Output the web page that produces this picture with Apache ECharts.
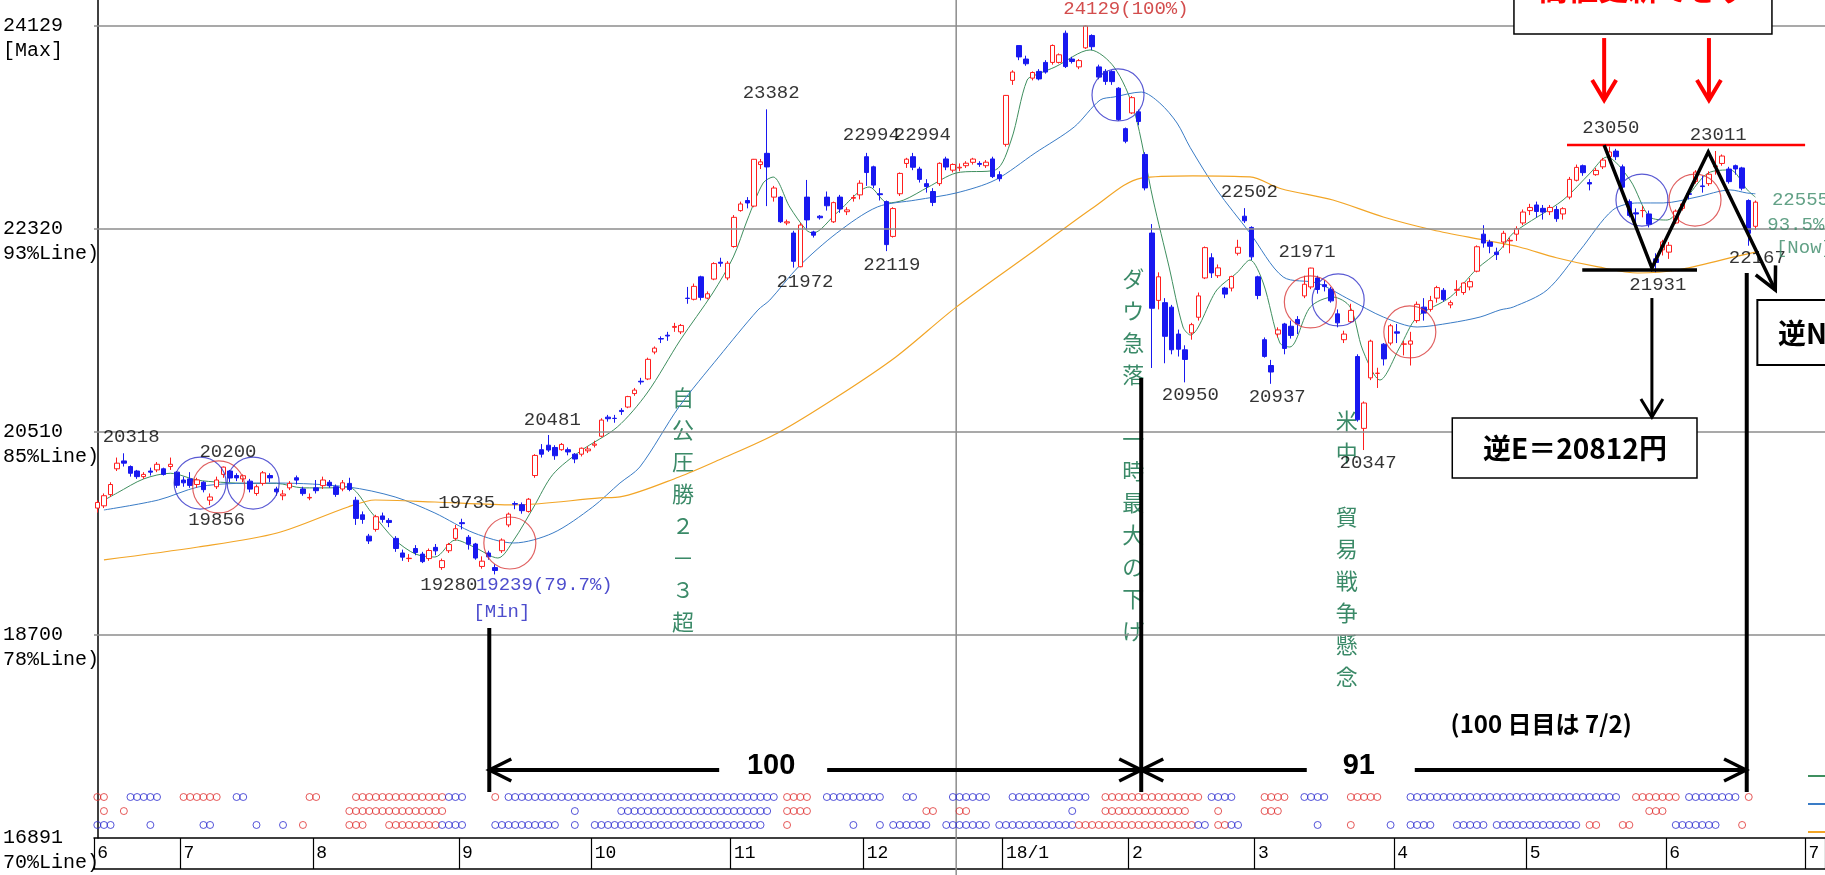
<!DOCTYPE html>
<html lang="ja">
<head>
<meta charset="utf-8">
<title>日経平均 日足</title>
<script src="https://cdn.jsdelivr.net/npm/echarts@6/dist/echarts.min.js"></script>
<style>
html,body{margin:0;padding:0;background:#fff;overflow:hidden;}
#chart{width:1825px;height:875px;}
</style>
</head>
<body>
<div id="chart"></div>
<script>
// ---------- calendar (trading days) ----------
const firstDay = '2017-06-14';
const lastDay = '2018-07-04';
const holidays = ['2017-07-17','2017-08-11','2017-09-18','2017-10-09','2017-11-03','2017-11-23',
  '2018-01-01','2018-01-02','2018-01-03','2018-01-08','2018-02-12','2018-03-21','2018-04-30','2018-05-03','2018-05-04'];
const monthText = {'2017-06':'6','2017-07':'7','2017-08':'8','2017-09':'9','2017-10':'10','2017-11':'11','2017-12':'12',
  '2018-01':'18/1','2018-02':'2','2018-03':'3','2018-04':'4','2018-05':'5','2018-06':'6','2018-07':'7'};

// ---------- y axis ----------
const yMin = 16891, yMax = 24356;
const yTicks = [16891, 18700, 20510, 22320, 24129];
const yTickNotes = ['70%Line)', '78%Line)', '85%Line)', '93%Line)', '[Max]'];

// ---------- daily candles [open, close, low, high] ----------
const jun17 = [[19830,19880,19790,19900],[19850,19940,19830,19960],[19950,20040,19930,20060],[20180,20230,20160,20280],
 [20250,20230,20200,20318],[20200,20140,20110,20210],[20160,20110,20090,20170],[20110,20130,20090,20150],
 [20160,20150,20120,20190],[20170,20220,20150,20240],[20180,20130,20120,20190],[20200,20220,20170,20280],[20150,20033,20010,20160]];
const jul17 = [[20080,20055,20020,20110],[20090,20032,20010,20150],[20040,20081,20010,20100],[20060,19994,19970,20070],
 [19900,19929,19856,19960],[20020,20080,20000,20110],[20130,20195,20100,20200],[20160,20098,20060,20170],
 [20120,20099,20070,20140],[20090,20118,20060,20130],[20070,19999,19970,20090],[19960,20020,19940,20040],
 [20050,20144,20030,20160],[20120,20099,20060,20140],[20000,19975,19940,20020],[19940,19955,19900,19990],
 [20010,20050,19990,20070],[20100,20079,20040,20120],[20000,19959,19940,20020],[19920,19925,19900,19960]];
const aug17 = [[20010,19985,19960,20080],[20030,20080,20000,20110],[20060,20029,20010,20080],[20020,19952,19930,20040],
 [20000,20055,19980,20080],[20050,19996,19980,20100],[19900,19738,19680,19930],[19770,19729,19690,19800],
 [19580,19537,19510,19600],[19640,19753,19620,19770],[19760,19729,19700,19790],[19720,19702,19660,19740],
 [19560,19470,19440,19580],[19430,19393,19360,19460],[19380,19383,19350,19420],[19470,19434,19410,19500],
 [19420,19353,19340,19440],[19380,19452,19360,19470],[19480,19449,19410,19510],[19300,19362,19280,19380],
 [19450,19506,19430,19520],[19560,19646,19540,19680]];
const sep17 = [[19700,19691,19640,19735],[19570,19508,19460,19590],[19510,19385,19370,19520],[19310,19357,19290,19400],
 [19430,19396,19370,19450],[19300,19274,19239,19330],[19450,19545,19430,19560],[19680,19776,19660,19790],
 [19870,19865,19820,19890],[19860,19807,19780,19880],[19800,19909,19790,19920],[20120,20299,20100,20310],
 [20350,20310,20280,20400],[20390,20347,20330,20481],[20370,20296,20260,20390],[20350,20397,20340,20410],
 [20350,20330,20300,20370],[20310,20267,20230,20320],[20310,20363,20290,20370],[20340,20356,20320,20380]];
const oct17 = [[20390,20400,20370,20430],[20470,20614,20460,20630],[20640,20626,20600,20660],[20630,20628,20590,20660],
 [20700,20690,20660,20720],[20730,20823,20720,20830],[20850,20881,20830,20900],[20960,20954,20930,20990],
 [20980,21155,20970,21170],[21220,21255,21200,21270],[21340,21336,21300,21360],[21370,21363,21320,21400],
 [21440,21448,21400,21480],[21400,21457,21380,21470],[21700,21697,21650,21800],[21690,21805,21680,21830],
 [21890,21707,21680,21900],[21700,21739,21690,21760],[21870,22008,21860,22020],[22020,22011,21980,22060],
 [21880,22011,21860,22030]];
const nov17 = [[22160,22420,22150,22440],[22480,22539,22470,22560],[22570,22548,22500,22600],[22520,22937,22510,22940],
 [22890,22914,22850,22940],[22990,22869,22520,23382],[22600,22681,22560,22700],[22600,22381,22370,22610],
 [22370,22380,22350,22400],[22280,22028,21972,22300],[21980,22351,21975,22370],[22600,22397,22310,22753],
 [22290,22261,22240,22300],[22430,22416,22400,22440],[22600,22523,22480,22650],[22380,22551,22370,22560],
 [22600,22495,22460,22620],[22470,22486,22440,22510],[22590,22597,22560,22620],[22620,22724,22580,22750]];
const dec17 = [[22960,22819,22700,22994],[22870,22707,22680,22880],[22630,22622,22570,22680],[22560,22177,22119,22570],
 [22250,22498,22240,22510],[22630,22811,22610,22820],[22900,22938,22860,22950],[22960,22866,22840,22994],
 [22850,22758,22730,22870],[22720,22694,22640,22760],[22650,22553,22520,22680],[22720,22901,22700,22910],
 [22940,22868,22840,22960],[22840,22891,22820,22900],[22860,22866,22830,22900],[22880,22902,22860,22920],
 [22910,22939,22890,22950],[22900,22892,22870,22920],[22880,22911,22860,22930],[22940,22783,22770,22960],
 [22800,22764,22740,22830]];
const jan18 = [[23070,23506,23050,23510],[23640,23714,23600,23730],[23950,23849,23820,23952],[23830,23788,23770,23860],
 [23660,23710,23640,23720],[23720,23653,23640,23740],[23800,23714,23700,23820],[23800,23951,23780,23960],
 [23800,23868,23790,23880],[24060,23763,23750,24084],[23830,23808,23790,23850],[23760,23816,23740,23830],
 [23930,24124,23920,24129],[24040,23940,23910,24050],[23760,23669,23650,23780],[23720,23631,23600,23740],
 [23720,23629,23600,23730],[23570,23291,23280,23580],[23210,23098,23080,23220]];
const feb18 = [[23350,23486,23340,23500],[23360,23274,23240,23380],[22980,22682,22660,23000],[22280,21610,21078,22360],
 [21680,21890,21600,21930],[21660,21360,21120,21700],[21620,21240,21200,21640],[21380,21245,21180,21420],
 [21240,21154,20950,21280],[21390,21464,21330,21480],[21530,21720,21500,21750],[21880,22150,21870,22160],
 [22060,21925,21880,22100],[21900,21970,21880,22000],[21790,21736,21700,21800],[21790,21892,21760,21900],
 [22100,22153,22080,22220],[22430,22389,22370,22502],[22330,22068,22040,22340]];
const mar18 = [[21890,21724,21690,21900],[21330,21181,21170,21350],[21100,21042,20937,21150],[21380,21417,21350,21440],
 [21470,21252,21200,21480],[21450,21368,21340,21500],[21510,21469,21380,21540],[21720,21824,21700,21900],
 [21800,21968,21780,21971],[21880,21777,21740,21900],[21820,21803,21760,21860],[21780,21676,21660,21800],
 [21560,21480,21440,21600],[21330,21380,21300,21410],[21490,21591,21480,21650],[21180,20617,20600,21200],
 [20540,20766,20347,20780],[20990,21317,20970,21330],[21030,21031,20900,21080],[21290,21159,21100,21300],
 [21300,21454,21280,21470]];
const apr18 = [[21400,21388,21300,21470],[21290,21292,21190,21320],[21290,21319,21100,21400],[21500,21645,21480,21670],
 [21620,21567,21500,21700],[21600,21678,21580,21720],[21700,21794,21660,21810],[21770,21687,21670,21790],
 [21640,21660,21610,21680],[21770,21778,21720,21860],[21750,21835,21730,21840],[21800,21847,21770,21880],
 [21940,22158,21930,22170],[22270,22191,22150,22350],[22200,22162,22100,22220],[22110,22088,22040,22150],
 [22200,22278,22150,22300],[22210,22215,22100,22240],[22270,22319,22210,22340],[22370,22467,22350,22490]];
const may18 = [[22480,22508,22440,22540],[22530,22472,22420,22560],[22500,22467,22400,22530],[22470,22508,22440,22530],
 [22490,22408,22380,22520],[22450,22497,22400,22510],[22600,22758,22580,22780],[22750,22865,22740,22890],
 [22880,22818,22790,22890],[22730,22717,22660,22760],[22800,22838,22790,22860],[22870,22930,22850,22950],
 [22960,23002,22940,23050],[23010,22960,22930,23030],[22870,22689,22660,22890],[22560,22437,22420,22580],
 [22460,22450,22360,22500],[22480,22481,22420,22520],[22450,22358,22330,22480],[22050,22018,21931,22100],
 [22130,22201,22080,22220]];
const jun18 = [[22110,22171,22050,22200],[22370,22475,22360,22490],[22500,22539,22480,22560],[22630,22625,22580,22650],
 [22740,22823,22720,22840],[22700,22694,22640,22790],[22720,22804,22700,22830],[22870,22878,22800,23011],
 [22900,22966,22880,22980],[22850,22738,22720,22870],[22880,22851,22800,22890],[22860,22680,22660,22870],
 [22570,22278,22167,22580],[22340,22555,22310,22570]];

// ---------- moving averages [day index, value] ----------
const maShort = [[1,19900],[3,19965],[7,20090],[11,20140],[15,20080],[18.6,20060],[23,20050],[27,20050],[31,20010],
 [35,20010],[37.8,20018],[41.4,19786],[44.9,19546],[48,19420],[50.9,19394],[54,19546],[56.8,19483],[60.4,19385],
 [62.8,19546],[65.8,19840],[68.7,20130],[72.9,20340],[78.4,20552],[82.9,20855],[87.9,21327],[92.8,21746],
 [95.9,22067],[98,22396],[100.4,22726],[101.9,22779],[104.4,22512],[106.9,22307],[107.9,22280],[111.5,22459],
 [116.4,22690],[119.2,22548],[121.6,22574],[125.3,22690],[129.5,22815],[135.4,22842],[137.8,23109],[140.2,23643],
 [142,23700],[144.4,23759],[149.7,23911],[153.3,23759],[156.3,23376],[159.2,22574],[161.6,21978],[163.7,21443],
 [164.8,21372],[168.8,21773],[171.8,21924],[173.8,22040],[175.8,21835],[178.3,21301],[179.8,21265],[182.9,21621],
 [186.3,21710],[188.9,21621],[190.8,21238],[193.4,20971],[196.4,21265],[199,21532],[204,21710],[208,21960],
 [211.5,22129],[213.5,22280],[221,22574],[225.1,22815],[227.6,22957],[231.1,22753],[234.1,22423],[236.7,22396],
 [239.7,22600],[242.9,22815],[246.2,22842],[248.8,22664],[250,22600]];
const maMid = [[1,19813],[9.2,19902],[15.2,20018],[21,20050],[27.1,20053],[37.8,20018],[44.9,19929],[50.9,19786],
 [56.8,19608],[62.8,19519],[68.7,19608],[74.7,19840],[78.8,20053],[81.8,20196],[87.7,20731],[93.7,21176],
 [99.6,21594],[101.4,21683],[105.7,21978],[111.5,22280],[117.6,22512],[123.4,22574],[129.5,22637],[135.4,22753],
 [141.4,22993],[147.3,23225],[151.2,23465],[153.3,23492],[157.4,23536],[160.2,23438],[162.8,23260],[164.8,23040],
 [168.8,22664],[173.8,22280],[178.8,21889],[183.9,21835],[188.9,21684],[193.9,21532],[199,21443],[204,21479],
 [208.5,21532],[211.5,21595],[213.5,21621],[218.6,21773],[223.6,22129],[228.5,22485],[232.2,22548],[236.1,22548],
 [241.2,22601],[246.2,22664],[248.7,22637],[250,22630]];
const maLong = [[1,19368],[15.2,19483],[27.1,19608],[37.8,19840],[41.9,19902],[50.9,19884],[62.8,19858],[75.8,19920],
 [78.8,19929],[87.7,20107],[93.7,20258],[102.6,20499],[111.5,20819],[120.4,21176],[129.5,21620],[141.4,22129],
 [150.3,22512],[157.4,22770],[165.2,22790],[173.8,22780],[178.5,22675],[186.3,22574],[193.9,22423],[201.4,22307],
 [209,22218],[214.4,22156],[220,22060],[226.3,21978],[232.3,21924],[238.3,21951],[246.8,22067],[250,22110]];
const maNames = ['5日線', '25日線', '75日線'];

// ---------- cross marks (circles) [day index, value, kind] ----------
const crossMarks = [[15.5,20053,'b'],[18.3,20018,'r'],[23.5,20053,'b'],[62.2,19519,'r'],[153.9,23510,'b'],
 [182.9,21666,'r'],[187.1,21684,'b'],[197.9,21399,'r'],[232.9,22574,'b'],[240.9,22574,'r']];

// ---------- signal dots: runs of days [from, to, kind] per row ----------
const dotRowValues = [17256, 17131, 17007];
const dotRow1 = [[0,1,'r'],[5,9,'b'],[13,18,'r'],[21,22,'b'],[32,33,'r'],[39,52,'r'],[53,55,'b'],[60,60,'r'],[62,102,'b'],
 [104,107,'r'],[110,118,'b'],[122,123,'b'],[129,134,'b'],[138,149,'b'],[152,166,'r'],[168,171,'b'],[176,179,'r'],
 [182,185,'b'],[189,193,'r'],[198,229,'b'],[232,238,'r'],[240,247,'b'],[249,249,'r']];
const dotRow2 = [[1,1,'r'],[4,4,'r'],[38,52,'r'],[72,72,'b'],[79,101,'b'],[104,107,'r'],[125,126,'r'],[130,131,'r'],
 [147,147,'b'],[152,164,'r'],[169,169,'r'],[176,178,'r'],[234,236,'r']];
const dotRow3 = [[0,2,'b'],[8,8,'b'],[16,17,'b'],[24,24,'b'],[28,28,'b'],[31,31,'r'],[38,40,'r'],[44,51,'r'],[52,55,'b'],
 [60,60,'b'],[61,69,'b'],[72,72,'b'],[75,100,'b'],[104,104,'r'],[114,114,'b'],[118,118,'b'],[120,125,'b'],[128,134,'b'],
 [136,147,'b'],[148,165,'r'],[166,167,'b'],[169,170,'r'],[171,172,'b'],[184,184,'b'],[189,189,'r'],[195,195,'b'],
 [198,201,'b'],[205,209,'b'],[211,223,'b'],[225,226,'r'],[230,231,'r'],[238,244,'b'],[248,248,'r']];

// ---------- price labels [day index, value, text] ----------
const peakLabels = [[5.1,20463,'20318'],[19.7,20330,'20200'],[18.0,19724,'19856'],[55.7,19875,'19735'],[53.0,19145,'19280'],
 [68.6,20615,'20481'],[101.6,23528,'23382'],[116.7,23153,'22994'],[124.4,23153,'22994'],[106.7,21844,'21972'],
 [119.8,21995,'22119'],[173.7,22646,'22502'],[182.4,22111,'21971'],[164.8,20837,'20950'],[177.9,20819,'20937'],
 [191.6,20232,'20347'],[228.2,23216,'23050'],[244.4,23153,'23011'],[235.3,21817,'21931'],[250.3,22058,'22167']];
const minLabels = [[67.4,19145,'19239(79.7%)'],[61.0,18904,'[Min]']];
const maxLabels = [[155.1,24276,'24129(100%)']];
const nowLabels = [[252.5,22574,'22555'],[251.8,22352,'93.5%'],[253.1,22147,'[Now]']];

// ---------- annotations (data space: day index, price) ----------
const spanArrows = [[59.1,157.4,17497,'100',100.7],[157.4,248.6,17497,'91',189.3]];
const guideLines = [[59.1,18762,17301],[157.4,20989,17301],[248.7,21924,17301]];
const noteText = [217.7,17907,'(100 日目は 7/2)'];
const verticalNotes = [[88.3,20811,'自公圧勝２－３超'],[156.2,21871,'ダウ急落　一時最大の下げ'],[188.4,20606,'米中　貿易戦争懸念']];
const topBox = [213.6,252.5,24712,24053,'高値更新できず',233.1,24458];
const redArrows = [[227.2,24017,23465],[243.0,24017,23465]];
const resistance = [221.6,257.5,23064];
const zigzag = [[227.2,23064],[234.4,21969],[242.9,23002],[253.0,21773]];
const supportLine = [223.9,241.2,21951];
const downArrow = [234.4,21701,20641];
const boxE = [204.3,241.2,20632,20098,'逆E＝20812円',222.8,20365];
const boxN = [250.3,275,21684,21105,'逆N計算値',253.4,21390];
const vGrid = [129.5];

// ================= build =================
const dates = [];
(function(){
  let d = new Date(firstDay + 'T00:00:00Z');
  const end = new Date(lastDay + 'T00:00:00Z');
  while (d <= end) {
    const s = d.toISOString().slice(0,10);
    const wd = d.getUTCDay();
    if (wd !== 0 && wd !== 6 && holidays.indexOf(s) < 0) dates.push(s);
    d = new Date(d.getTime() + 86400000);
  }
})();
const monthStart = dates.map((s,i)=> i===0 || s.slice(0,7) !== dates[i-1].slice(0,7));
const ohlc = [].concat(jun17,jul17,aug17,sep17,oct17,nov17,dec17,jan18,feb18,mar18,apr18,may18,jun18);

const RED = '#ff1e1e', BLUE = '#1818f0', GREEN_T = '#3b8a68';
const MONO = "'Liberation Mono','DejaVu Sans Mono',monospace";
const JP = "'Noto Sans CJK JP','Noto Sans',sans-serif";

function expand(runs, val){
  const out = [];
  runs.forEach(([a,b,k])=>{ for(let i=a;i<=b;i++) out.push({value:[i,val], itemStyle:{borderColor: k==='r'?'#e03030':'#2a2ad0'}}); });
  return out;
}
const dotData = [].concat(expand(dotRow1,dotRowValues[0]), expand(dotRow2,dotRowValues[1]), expand(dotRow3,dotRowValues[2]));
const circleData = crossMarks.map(([i,v,k])=>({value:[i,v], itemStyle:{borderColor: k==='r'?'#d83a3a':'#3030c8'}}));

function lbl(arr, color, align){
  return arr.map(([i,v,t])=>({value:[i,v], label:{formatter:t, color:color, align:align}}));
}
const labelData = [].concat(lbl(peakLabels,'#000','center'), lbl(minLabels,'#2020c0','center'),
  lbl(maxLabels,'#c82020','center'), lbl(nowLabels,GREEN_T,'left'));

const chart = echarts.init(document.getElementById('chart'));
const maColors = ['#3f8f5f','#3a7cc6','#f2a526'];

chart.setOption({
  animation:false,
  backgroundColor:'#ffffff',
  grid:{left:94, right:0, top:0, bottom:37, containLabel:false, outerBoundsMode:'none'},
  legend:{data:maNames, orient:'vertical', left:1803, top:765, icon:'rect', itemWidth:30, itemHeight:2, itemGap:16,
    textStyle:{fontSize:12, color:'#333'}},
  xAxis:[
    {type:'category', data:dates, boundaryGap:true,
      axisLine:{show:true, lineStyle:{color:'#000', width:1.5}},
      axisTick:{show:true, interval:(i)=>monthStart[i], length:31, lineStyle:{color:'#000', width:1.2}},
      axisLabel:{interval:(i)=>monthStart[i], formatter:(val)=>monthText[val.slice(0,7)]||'', align:'left', margin:6,
        fontFamily:MONO, fontSize:18, color:'#000'},
      splitLine:{show:false}},
    {type:'value', min:-0.5, max:dates.length-0.5, show:false},
    {type:'category', data:dates, position:'bottom', offset:31,
      axisLine:{show:true, lineStyle:{color:'#000', width:1.5}}, axisTick:{show:false}, axisLabel:{show:false}}
  ],
  yAxis:{type:'value', min:yMin, max:yMax,
    axisLine:{show:true, lineStyle:{color:'#000', width:1.5}}, axisTick:{show:false}, splitLine:{show:false},
    axisLabel:{customValues:yTicks, formatter:(v)=>{const k=yTicks.indexOf(Math.round(v)); return k<0?'':'\n'+yTicks[k]+'\n'+yTickNotes[k];},
      align:'left', margin:91, fontFamily:MONO, fontSize:20, lineHeight:25, padding:[0,0,12,0], color:'#000'}},
  series:[
    {name:'日足', type:'candlestick', xAxisIndex:0, yAxisIndex:0, data:ohlc, barWidth:5, z:4,
      itemStyle:{color:'#ffffff', color0:BLUE, borderColor:RED, borderColor0:BLUE, borderWidth:1}},
    {name:maNames[0], type:'line', xAxisIndex:1, yAxisIndex:0, data:maShort, smooth:0.3, showSymbol:false, z:3,
      lineStyle:{color:maColors[0], width:1}, itemStyle:{color:maColors[0]},
      markLine:{silent:true, symbol:['none','none'], label:{show:false},
        lineStyle:{color:'#8c8c8c', width:1.5, type:'solid'}, data:yTicks.slice(1).map(v=>({yAxis:v}))}},
    {name:maNames[1], type:'line', xAxisIndex:1, yAxisIndex:0, data:maMid, smooth:0.3, showSymbol:false, z:3,
      lineStyle:{color:maColors[1], width:1}, itemStyle:{color:maColors[1]}},
    {name:maNames[2], type:'line', xAxisIndex:1, yAxisIndex:0, data:maLong, smooth:0.3, showSymbol:false, z:3,
      lineStyle:{color:maColors[2], width:1.2}, itemStyle:{color:maColors[2]}},
    {type:'scatter', xAxisIndex:1, yAxisIndex:0, data:circleData, symbol:'circle', symbolSize:52, z:5, silent:true,
      itemStyle:{color:'rgba(0,0,0,0)', borderWidth:1.2}},
    {type:'scatter', xAxisIndex:1, yAxisIndex:0, data:dotData, symbol:'circle', symbolSize:7, z:5, silent:true,
      itemStyle:{color:'rgba(0,0,0,0)', borderWidth:1}},
    {type:'scatter', xAxisIndex:1, yAxisIndex:0, data:labelData, symbol:'circle', symbolSize:2, z:8, silent:true,
      itemStyle:{color:'rgba(255,255,255,0)', borderWidth:0},
      label:{show:true, position:'inside', verticalAlign:'middle', fontFamily:MONO, fontSize:19}}
  ]
});

// ---------- annotation graphics positioned through the axes ----------
(function(){
  const P = (i,v)=>chart.convertToPixel({xAxisIndex:1, yAxisIndex:0}, [i,v]);
  const g = [];
  const seg = (a,b,color,w,z)=>g.push({type:'line', z:z||60, silent:true, shape:{x1:a[0],y1:a[1],x2:b[0],y2:b[1]}, style:{stroke:color, lineWidth:w}});
  const head = (tip,from,color,w,len,half)=>{
    const dx=tip[0]-from[0], dy=tip[1]-from[1], L=Math.hypot(dx,dy)||1, ux=dx/L, uy=dy/L;
    const bx=tip[0]-ux*len, by=tip[1]-uy*len, px=-uy, py=ux;
    g.push({type:'polyline', z:61, silent:true, shape:{points:[[bx+px*half,by+py*half],[tip[0],tip[1]],[bx-px*half,by-py*half]]},
      style:{stroke:color, lineWidth:w, fill:null, lineJoin:'miter'}});
  };
  const txt = (x,y,text,opt)=>g.push({type:'text', z:opt.z||62, silent:true, x:x, y:y,
    style:Object.assign({text:text, fill:'#000', fontSize:24, fontFamily:JP, textAlign:'center', align:'center',
      textVerticalAlign:'middle', verticalAlign:'middle'}, opt.style||{})});
  const box = (x0,y0,x1,y1,w)=>g.push({type:'rect', z:58, silent:true, shape:{x:x0,y:y0,width:x1-x0,height:y1-y0},
    style:{fill:'#ffffff', stroke:'#000', lineWidth:w}});

  vGrid.forEach(i=>{ const p=P(i,yMax); seg([p[0],0],[p[0],875],'#8c8c8c',1.5,1); });

  verticalNotes.forEach(([i,v,t])=>{
    const p=P(i,v);
    g.push({type:'text', z:1, silent:true, x:p[0], y:p[1]-16,
      style:{text:t.split('').join('\n'), fill:GREEN_T, fontSize:22, fontFamily:JP, lineHeight:32,
        textAlign:'center', align:'center', textVerticalAlign:'top', verticalAlign:'top'}});
  });

  guideLines.forEach(([i,v0,v1])=>seg(P(i,v0),P(i,v1),'#000',4));

  spanArrows.forEach(([i0,i1,v,t,it])=>{
    const a=P(i0,v), b=P(i1,v), c=P(it,v);
    seg(a,[c[0]-46,c[1]],'#000',4); seg([c[0]+62,c[1]],b,'#000',4);
    head(a,[a[0]+30,a[1]],'#000',3.5,22,11); head(b,[b[0]-30,b[1]],'#000',3.5,22,11);
    txt(c[0]+6,c[1]-4,t,{style:{fontSize:29, fontWeight:'bold', fontFamily:"'Liberation Sans Narrow','Liberation Sans',Arial,sans-serif"}});
  });
  { const p=P(noteText[0],noteText[1]); txt(p[0],p[1],noteText[2],{style:{fontSize:24, fontWeight:'bold'}}); }

  { const a=P(topBox[0],topBox[2]), b=P(topBox[1],topBox[3]); box(a[0],a[1],b[0],b[1],1.5);
    const c=P(topBox[5],topBox[6]); txt(c[0],c[1],topBox[4],{style:{fill:'#ff0000', fontSize:30, fontWeight:'bold'}}); }
  redArrows.forEach(([i,v0,v1])=>{ const a=P(i,v0), b=P(i,v1); seg(a,b,'#ff0000',4); head(b,a,'#ff0000',4,20,12); });
  { const a=P(resistance[0],resistance[2]), b=P(resistance[1],resistance[2]); seg(a,b,'#ff0000',2.5); }

  const zp = zigzag.map(([i,v])=>P(i,v));
  g.push({type:'polyline', z:60, silent:true, shape:{points:zp}, style:{stroke:'#000', lineWidth:3.5, fill:null, lineJoin:'miter'}});
  head(zp[3], zp[2], '#000', 3.5, 22, 11);
  { const a=P(supportLine[0],supportLine[2]), b=P(supportLine[1],supportLine[2]); seg(a,b,'#000',3.5); }
  { const a=P(downArrow[0],downArrow[1]), b=P(downArrow[0],downArrow[2]); seg(a,b,'#000',3); head(b,a,'#000',3,18,11); }

  { const a=P(boxE[0],boxE[2]), b=P(boxE[1],boxE[3]); box(a[0],a[1],b[0],b[1],1.5);
    const c=P(boxE[5],boxE[6]); txt(c[0],c[1],boxE[4],{style:{fontSize:28, fontWeight:'bold'}}); }
  { const a=P(boxN[0],boxN[2]), b=P(boxN[1],boxN[3]); box(a[0],a[1],b[0],b[1],2);
    const c=P(boxN[5],boxN[6]); txt(c[0],c[1],boxN[4],{style:{fontSize:28, fontWeight:'bold', textAlign:'left', align:'left'}}); }

  chart.setOption({graphic:{elements:g}});
})();
</script>
</body>
</html>
